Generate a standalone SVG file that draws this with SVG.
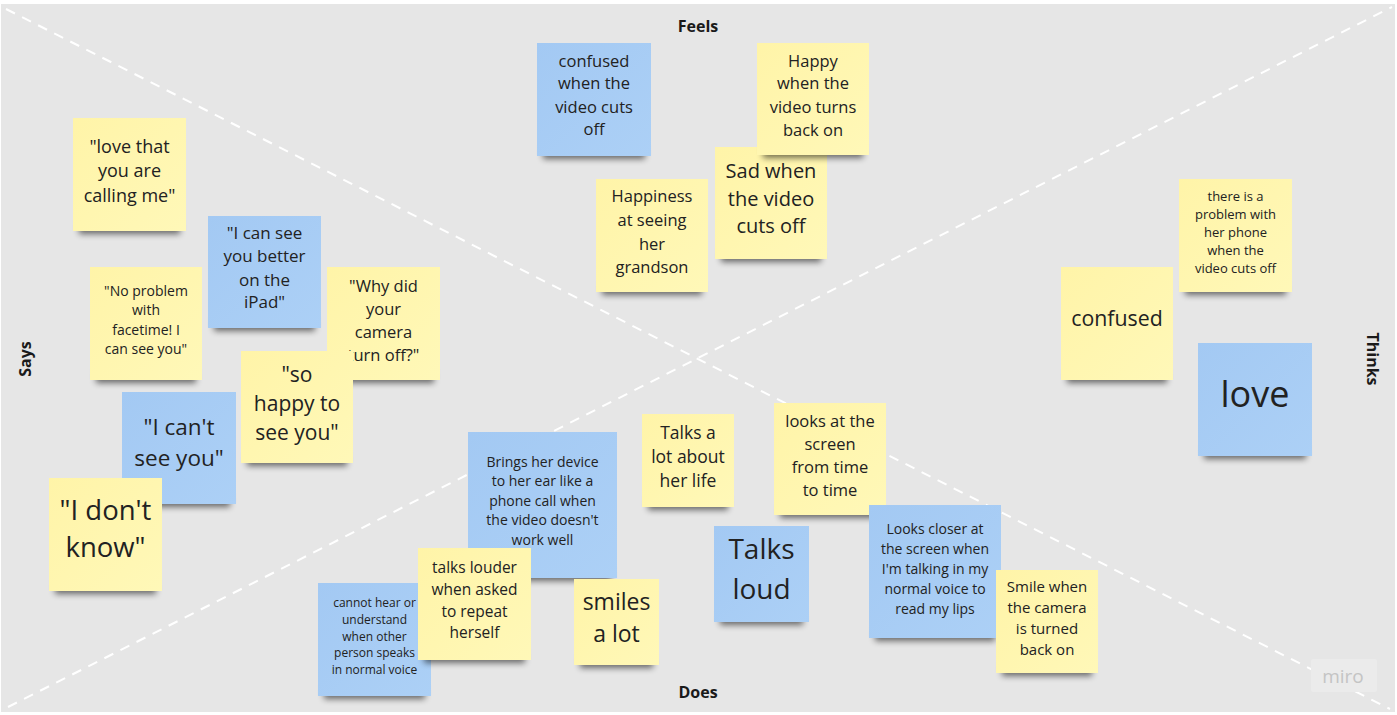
<svg xmlns="http://www.w3.org/2000/svg" width="1397" height="715" viewBox="0 0 1397 715">
<style>
.t{font-family:"Open Sans","Noto Sans","Liberation Sans",sans-serif;fill:#222;text-anchor:middle}
.lbl{font-family:"Open Sans","Noto Sans","Liberation Sans",sans-serif;font-weight:700;fill:#1a1a1a;font-size:16px;text-anchor:middle}
.y{fill:url(#gy)}
.b{fill:url(#gb)}
.sh{fill:#000;opacity:.55;filter:url(#blur)}
.dash{stroke:#fff;stroke-width:2;stroke-dasharray:10 8;fill:none}
</style>
<defs>
<linearGradient id="gy" x1="0" y1="0" x2="1" y2="1"><stop offset="0" stop-color="#fff4a8"/><stop offset="1" stop-color="#fff8b8"/></linearGradient>
<linearGradient id="gb" x1="0" y1="0" x2="1" y2="1"><stop offset="0" stop-color="#a3c9f3"/><stop offset="1" stop-color="#acd0f6"/></linearGradient>
<filter id="blur" x="-20%" y="-100%" width="140%" height="300%"><feGaussianBlur stdDeviation="3"/></filter>
</defs>
<rect x="0" y="0" width="1397" height="715" fill="#fff"/>
<rect x="1" y="4" width="1394" height="708" fill="#e6e6e6"/>
<g id="connectors">
<line class="dash" x1="6" y1="9" x2="1390" y2="709"/>
<line class="dash" x1="8" y1="707" x2="1392" y2="7"/>
</g>
<g id="labels">
<text class="lbl" x="698" y="32">Feels</text>
<text class="lbl" x="698" y="698">Does</text>
<text class="lbl" transform="translate(31,359) rotate(-90)">Says</text>
<text class="lbl" transform="translate(1367,359) rotate(90)">Thinks</text>
</g>
<g id="n1"><rect class="sh" x="79" y="221" width="101" height="13"/><rect class="y" x="73" y="118" width="113" height="113"/>
<text class="t" font-size="18"><tspan x="129.5" y="153">"love that</tspan><tspan x="129.5" y="177">you are</tspan><tspan x="129.5" y="202">calling me"</tspan></text></g>
<g id="n2"><rect class="sh" x="214" y="318" width="101" height="13"/><rect class="b" x="208" y="216" width="113" height="112"/>
<text class="t" font-size="17"><tspan x="264.5" y="239">"I can see</tspan><tspan x="264.5" y="262">you better</tspan><tspan x="264.5" y="286">on the</tspan><tspan x="264.5" y="308">iPad"</tspan></text></g>
<g id="n3"><rect class="sh" x="96" y="370" width="100" height="13"/><rect class="y" x="90" y="267" width="112" height="113"/>
<text class="t" font-size="14"><tspan x="146" y="296">"No problem</tspan><tspan x="146" y="315">with</tspan><tspan x="146" y="335">facetime! I</tspan><tspan x="146" y="354">can see you"</tspan></text></g>
<g id="n4"><rect class="sh" x="333" y="370" width="101" height="13"/><rect class="y" x="327" y="267" width="113" height="113"/>
<text class="t" font-size="16.5"><tspan x="383.5" y="292">"Why did</tspan><tspan x="383.5" y="315">your</tspan><tspan x="383.5" y="338">camera</tspan><tspan x="383.5" y="361">turn off?"</tspan></text></g>
<g id="n5"><rect class="sh" x="247" y="453" width="100" height="13"/><rect class="y" x="241" y="351" width="112" height="112"/>
<text class="t" font-size="21"><tspan x="297" y="382">"so</tspan><tspan x="297" y="411">happy to</tspan><tspan x="297" y="440">see you"</tspan></text></g>
<g id="n6"><rect class="sh" x="128" y="494" width="102" height="13"/><rect class="b" x="122" y="392" width="114" height="112"/>
<text class="t" font-size="22.5"><tspan x="179" y="435">"I can't</tspan><tspan x="179" y="466">see you"</tspan></text></g>
<g id="n7"><rect class="sh" x="55" y="581" width="101" height="13"/><rect class="y" x="49" y="478" width="113" height="113"/>
<text class="t" font-size="27.5"><tspan x="105.5" y="520">"I don't</tspan><tspan x="105.5" y="557">know"</tspan></text></g>
<g id="n8"><rect class="sh" x="324" y="686" width="101" height="13"/><rect class="b" x="318" y="583" width="113" height="113"/>
<text class="t" font-size="12"><tspan x="374.5" y="607">cannot hear or</tspan><tspan x="374.5" y="624">understand</tspan><tspan x="374.5" y="641">when other</tspan><tspan x="374.5" y="657">person speaks</tspan><tspan x="374.5" y="674">in normal voice</tspan></text></g>
<g id="n9"><rect class="sh" x="474" y="568" width="137" height="13"/><rect class="b" x="468" y="432" width="149" height="146"/>
<text class="t" font-size="14"><tspan x="542.5" y="467">Brings her device</tspan><tspan x="542.5" y="486">to her ear like a</tspan><tspan x="542.5" y="506">phone call when</tspan><tspan x="542.5" y="525">the video doesn't</tspan><tspan x="542.5" y="545">work well</tspan></text></g>
<g id="n10"><rect class="sh" x="424" y="650" width="101" height="13"/><rect class="y" x="418" y="548" width="113" height="112"/>
<text class="t" font-size="15.5"><tspan x="474.5" y="573">talks louder</tspan><tspan x="474.5" y="595">when asked</tspan><tspan x="474.5" y="617">to repeat</tspan><tspan x="474.5" y="638">herself</tspan></text></g>
<g id="n11"><rect class="sh" x="580" y="655" width="73" height="13"/><rect class="y" x="574" y="579" width="85" height="86"/>
<text class="t" font-size="23"><tspan x="616.5" y="610">smiles</tspan><tspan x="616.5" y="642">a lot</tspan></text></g>
<g id="n12"><rect class="sh" x="648" y="497" width="80" height="13"/><rect class="y" x="642" y="414" width="92" height="93"/>
<text class="t" font-size="17.5"><tspan x="688" y="439">Talks a</tspan><tspan x="688" y="463">lot about</tspan><tspan x="688" y="487">her life</tspan></text></g>
<g id="n13"><rect class="sh" x="720" y="612" width="83" height="13"/><rect class="b" x="714" y="526" width="95" height="96"/>
<text class="t" font-size="28"><tspan x="761.5" y="559">Talks</tspan><tspan x="761.5" y="599">loud</tspan></text></g>
<g id="n14"><rect class="sh" x="780" y="505" width="100" height="13"/><rect class="y" x="774" y="403" width="112" height="112"/>
<text class="t" font-size="16.5"><tspan x="830" y="427">looks at the</tspan><tspan x="830" y="450">screen</tspan><tspan x="830" y="473">from time</tspan><tspan x="830" y="496">to time</tspan></text></g>
<g id="n15"><rect class="sh" x="875" y="628" width="120" height="13"/><rect class="b" x="869" y="505" width="132" height="133"/>
<text class="t" font-size="14"><tspan x="935" y="534">Looks closer at</tspan><tspan x="935" y="554">the screen when</tspan><tspan x="935" y="574">I'm talking in my</tspan><tspan x="935" y="594">normal voice to</tspan><tspan x="935" y="614">read my lips</tspan></text></g>
<g id="n16"><rect class="sh" x="1002" y="663" width="90" height="13"/><rect class="y" x="996" y="570" width="102" height="103"/>
<text class="t" font-size="15"><tspan x="1047" y="592">Smile when</tspan><tspan x="1047" y="613">the camera</tspan><tspan x="1047" y="634">is turned</tspan><tspan x="1047" y="655">back on</tspan></text></g>
<g id="n17"><rect class="sh" x="543" y="146" width="102" height="13"/><rect class="b" x="537" y="43" width="114" height="113"/>
<text class="t" font-size="16.5"><tspan x="594" y="67">confused</tspan><tspan x="594" y="89">when the</tspan><tspan x="594" y="113">video cuts</tspan><tspan x="594" y="135">off</tspan></text></g>
<g id="n18"><rect class="sh" x="721" y="249" width="100" height="13"/><rect class="y" x="715" y="147" width="112" height="112"/>
<text class="t" font-size="20"><tspan x="771" y="178">Sad when</tspan><tspan x="771" y="206">the video</tspan><tspan x="771" y="233">cuts off</tspan></text></g>
<g id="n19"><rect class="sh" x="763" y="145" width="100" height="13"/><rect class="y" x="757" y="43" width="112" height="112"/>
<text class="t" font-size="16.5"><tspan x="813" y="67">Happy</tspan><tspan x="813" y="89">when the</tspan><tspan x="813" y="113">video turns</tspan><tspan x="813" y="136">back on</tspan></text></g>
<g id="n20"><rect class="sh" x="602" y="282" width="100" height="13"/><rect class="y" x="596" y="179" width="112" height="113"/>
<text class="t" font-size="16.5"><tspan x="652" y="202">Happiness</tspan><tspan x="652" y="226">at seeing</tspan><tspan x="652" y="250">her</tspan><tspan x="652" y="273">grandson</tspan></text></g>
<g id="n21"><rect class="sh" x="1185" y="282" width="101" height="13"/><rect class="y" x="1179" y="179" width="113" height="113"/>
<text class="t" font-size="13"><tspan x="1235.5" y="201">there is a</tspan><tspan x="1235.5" y="219">problem with</tspan><tspan x="1235.5" y="237">her phone</tspan><tspan x="1235.5" y="255">when the</tspan><tspan x="1235.5" y="273">video cuts off</tspan></text></g>
<g id="n22"><rect class="sh" x="1067" y="370" width="100" height="13"/><rect class="y" x="1061" y="267" width="112" height="113"/>
<text class="t" font-size="21.3"><tspan x="1117" y="326">confused</tspan></text></g>
<g id="n23"><rect class="sh" x="1204" y="446" width="102" height="13"/><rect class="b" x="1198" y="343" width="114" height="113"/>
<text class="t" font-size="36"><tspan x="1255" y="407">love</tspan></text></g>
<g id="miro"><rect x="1311" y="659" width="66" height="33" rx="2" fill="#ebebeb"/>
<text x="1343" y="683" font-family="'Open Sans','Liberation Sans',sans-serif" font-size="19" fill="#c4c4c4" text-anchor="middle">miro</text></g>
</svg>
